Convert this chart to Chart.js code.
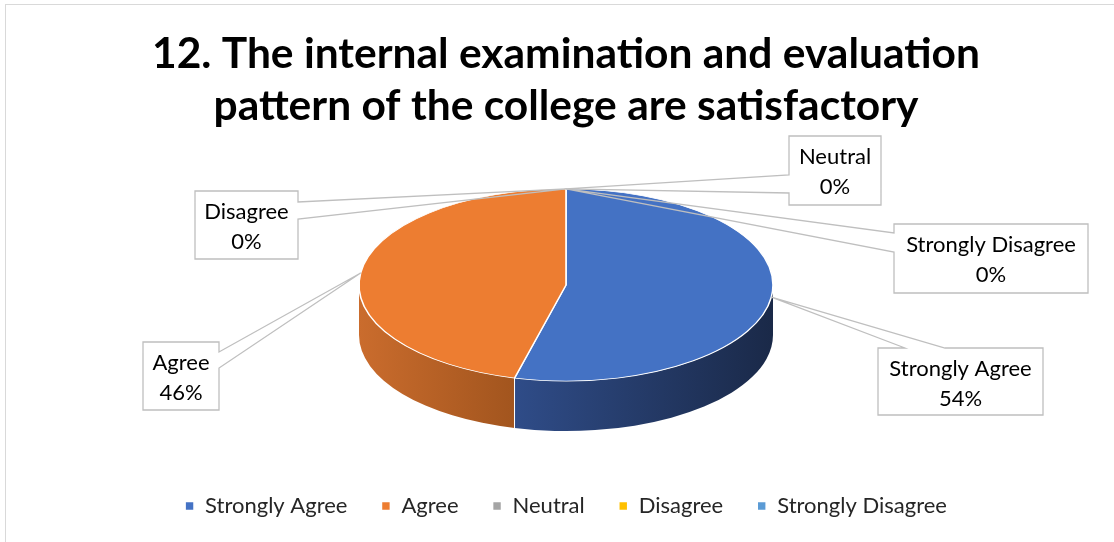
<!DOCTYPE html>
<html>
<head>
<meta charset="utf-8">
<script src="https://cdn.jsdelivr.net/npm/chart.js@4/dist/chart.umd.min.js"></script>
<style>
  html, body { margin: 0; padding: 0; background: #ffffff; }
  #wrap { width: 1114px; height: 542px; position: relative; }
  canvas { display: block; }
</style>
</head>
<body>
<div id="wrap"><canvas id="chart" width="1114" height="542"></canvas></div>
<script>
// Survey answers and their shares (%)
const categories = ['Strongly Agree', 'Agree', 'Neutral', 'Disagree', 'Strongly Disagree'];
const percentages = [54, 46, 0, 0, 0];
const titleLines = ['12. The internal examination and evaluation', 'pattern of the college are satisfactory'];

// Styling
const sliceColors = ['#4472C4', '#ED7D31', '#A5A5A5', '#FFC000', '#5B9BD5'];
const wallShades = [
  ['#2F4C88', '#1A2948'],
  ['#CA6C2D', '#A2551E'],
  ['#7A7A7A', '#5E5E5E'],
  ['#C09000', '#967000'],
  ['#3F76A8', '#2C5680']
];
const TILT = 0.464;     // vertical squash of the pie disc
const DEPTH = 50;       // thickness of the disc in px
const LABEL_FONT = '22px Lato';

// Callout boxes: box rectangle and the edge segment the pointer leaves from
const calloutBoxes = [
  { x: 878, y: 348, w: 165, h: 67, side: 'top',   from: 905, to: 945 },
  { x: 143, y: 342, w: 76,  h: 68, side: 'right', from: 352, to: 368 },
  { x: 789, y: 136, w: 92,  h: 69, side: 'left',  from: 175, to: 193 },
  { x: 195, y: 191, w: 103, h: 68, side: 'right', from: 202, to: 219 },
  { x: 894, y: 224, w: 194, h: 69, side: 'left',  from: 233, to: 252 }
];

const total = percentages.reduce((a, b) => a + b, 0);

function frontSpans(a1, a2) {
  // parts of [a1, a2] that lie on the visible front half (0..PI, plus wraps)
  const spans = [];
  for (const shift of [-2 * Math.PI, 0, 2 * Math.PI]) {
    const lo = Math.max(a1, shift), hi = Math.min(a2, shift + Math.PI);
    if (hi > lo) spans.push([lo, hi]);
  }
  return spans;
}

const framePlugin = {
  id: 'frame',
  beforeDraw(chart) {
    const ctx = chart.ctx;
    ctx.save();
    ctx.strokeStyle = '#D9D9D9';
    ctx.lineWidth = 1;
    ctx.strokeRect(5.5, 4.5, 1300, 700);
    ctx.restore();
  }
};

const pie3dPlugin = {
  id: 'pie3d',
  beforeDatasetsDraw(chart) {
    const ctx = chart.ctx;
    const arcs = chart.getDatasetMeta(0).data;
    if (!arcs.length) return;
    const { x: cx, y: cy } = arcs[0].getProps(['x', 'y'], true);

    // side wall of the disc
    arcs.forEach((arc, i) => {
      const p = arc.getProps(['startAngle', 'endAngle', 'outerRadius'], true);
      const r = p.outerRadius, ry = r * TILT;
      frontSpans(p.startAngle, p.endAngle).forEach(([a1, a2]) => {
        const xa = cx + r * Math.cos(a1), xb = cx + r * Math.cos(a2);
        const g = ctx.createLinearGradient(Math.min(xa, xb, cx - r * (a2 > Math.PI * 0.99 ? 1 : 0)), 0, Math.max(xa, xb), 0);
        g.addColorStop(0, wallShades[i][0]);
        g.addColorStop(1, wallShades[i][1]);
        ctx.save();
        ctx.beginPath();
        ctx.ellipse(cx, cy, r, ry, 0, a1, a2, false);
        ctx.ellipse(cx, cy + DEPTH, r, ry, 0, a2, a1, true);
        ctx.closePath();
        ctx.fillStyle = g;
        ctx.fill();
        ctx.restore();
      });
    });
    // seams between slices on the wall
    ctx.save();
    ctx.strokeStyle = 'rgba(255,255,255,0.9)';
    ctx.lineWidth = 1;
    arcs.forEach((arc) => {
      const p = arc.getProps(['startAngle', 'endAngle', 'outerRadius'], true);
      [p.startAngle, p.endAngle].forEach((a) => {
        const s = Math.sin(a);
        if (s > 0.05) {
          const px = cx + p.outerRadius * Math.cos(a), py = cy + p.outerRadius * TILT * s;
          ctx.beginPath();
          ctx.moveTo(px, py);
          ctx.lineTo(px, py + DEPTH);
          ctx.stroke();
        }
      });
    });
    ctx.restore();

    // squash the top face into an ellipse
    ctx.save();
    ctx.translate(cx, cy);
    ctx.scale(1, TILT);
    ctx.translate(-cx, -cy);
  },
  afterDatasetsDraw(chart) {
    const ctx = chart.ctx;
    ctx.restore();
    const arcs = chart.getDatasetMeta(0).data;

    arcs.forEach((arc, i) => {
      const p = arc.getProps(['x', 'y', 'startAngle', 'endAngle', 'outerRadius'], true);
      const mid = (p.startAngle + p.endAngle) / 2;
      const ax = p.x + p.outerRadius * Math.cos(mid);
      const ay = p.y + p.outerRadius * TILT * Math.sin(mid);
      const b = calloutBoxes[i];
      ctx.save();
      // box body
      ctx.fillStyle = '#ffffff';
      ctx.fillRect(b.x, b.y, b.w, b.h);
      // outline with pointer
      ctx.beginPath();
      if (b.side === 'top') {
        ctx.moveTo(b.x, b.y);
        ctx.lineTo(b.from, b.y);
        ctx.lineTo(ax, ay);
        ctx.lineTo(b.to, b.y);
        ctx.lineTo(b.x + b.w, b.y);
        ctx.lineTo(b.x + b.w, b.y + b.h);
        ctx.lineTo(b.x, b.y + b.h);
      } else if (b.side === 'right') {
        ctx.moveTo(b.x, b.y);
        ctx.lineTo(b.x + b.w, b.y);
        ctx.lineTo(b.x + b.w, b.from);
        ctx.lineTo(ax, ay);
        ctx.lineTo(b.x + b.w, b.to);
        ctx.lineTo(b.x + b.w, b.y + b.h);
        ctx.lineTo(b.x, b.y + b.h);
      } else {
        ctx.moveTo(b.x, b.y);
        ctx.lineTo(b.x + b.w, b.y);
        ctx.lineTo(b.x + b.w, b.y + b.h);
        ctx.lineTo(b.x, b.y + b.h);
        ctx.lineTo(b.x, b.to);
        ctx.lineTo(ax, ay);
        ctx.lineTo(b.x, b.from);
      }
      ctx.closePath();
      ctx.strokeStyle = '#BFBFBF';
      ctx.lineWidth = 1.3;
      ctx.stroke();
      // text
      const pct = Math.round(percentages[i] / total * 100) + '%';
      ctx.fillStyle = '#000000';
      ctx.font = LABEL_FONT;
      ctx.textAlign = 'center';
      ctx.textBaseline = 'middle';
      ctx.fillText(categories[i], b.x + b.w / 2, b.y + 21);
      ctx.fillText(pct, b.x + b.w / 2, b.y + 51);
      ctx.restore();
    });
  }
};

new Chart(document.getElementById('chart'), {
  type: 'pie',
  data: {
    labels: categories,
    datasets: [{
      data: percentages,
      backgroundColor: sliceColors,
      borderColor: '#ffffff',
      borderWidth: 1.6,
      radius: 207,
      clip: false
    }]
  },
  options: {
    responsive: false,
    animation: false,
    events: [],
    layout: { padding: { left: 18, right: 0, top: 0, bottom: 15 } },
    plugins: {
      title: {
        display: true,
        text: titleLines,
        color: '#000000',
        font: { family: 'Lato', weight: 'bold', size: 42.5, lineHeight: 1.224 },
        padding: { top: 28, bottom: -23 }
      },
      legend: {
        position: 'bottom',
        labels: {
          boxWidth: 9,
          boxHeight: 9,
          padding: 34,
          color: '#262626',
          font: { family: 'Lato', size: 22 }
        }
      },
      tooltip: { enabled: false }
    }
  },
  plugins: [framePlugin, pie3dPlugin]
});
</script>
</body>
</html>
